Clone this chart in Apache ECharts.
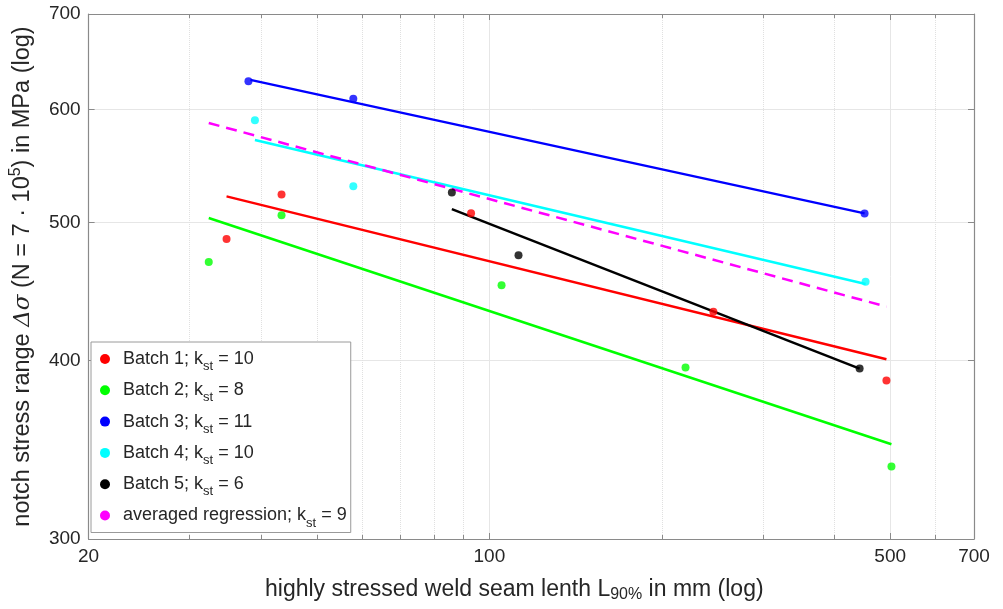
<!DOCTYPE html>
<html>
<head>
<meta charset="utf-8">
<script src="https://cdn.jsdelivr.net/npm/echarts@6/dist/echarts.min.js"></script>
<style>
html, body { margin: 0; padding: 0; background: #fff; }
#main { width: 1003px; height: 609px; }
</style>
</head>
<body>
<div id="main"></div>
<script>
// measured points: seam length L90% (mm) / notch stress range (MPa)
var batch1X = [34.8, 43.4, 92.9, 245.8, 492.5];
var batch1Y = [486.8, 523.2, 507.6, 432.9, 387.4];
var batch2X = [32.4, 43.4, 105, 219.8, 502.5];
var batch2Y = [469.2, 505.8, 451.8, 395.6, 337.2];
var batch3X = [38.0, 57.9, 451.1];
var batch3Y = [627.9, 610.4, 507.4];
var batch4X = [39.0, 57.9, 452.9];
var batch4Y = [589.7, 530.1, 454.3];
var batch5X = [86.0, 112.4, 442.2];
var batch5Y = [524.7, 474.2, 395.0];

// regression lines (end points)
var fit1X = [34.8, 492.5], fit1Y = [521.5, 401.0];
var fit2X = [32.4, 502.5], fit2Y = [503.6, 349.6];
var fit3X = [38.3, 451.1], fit3Y = [629.4, 507.4];
var fit4X = [39.0, 452.9], fit4Y = [571.2, 452.8];
var fit5X = [86.0, 442.2], fit5Y = [510.9, 395.0];
var avgX = [32.4, 492.5], avgY = [587.1, 436.5];

var names = ['Batch 1', 'Batch 2', 'Batch 3', 'Batch 4', 'Batch 5', 'averaged regression'];
var kst = [10, 8, 11, 10, 6, 9];

var xTicks = [20, 100, 500, 700];
var xMinor = [30, 40, 50, 60, 70, 80, 90, 200, 300, 400, 600];
var yTicks = [300, 400, 500, 600, 700];

var colors = ['#ff0000', '#00ff00', '#0000ff', '#00ffff', '#000000', '#ff00ff'];
var axisColor = '#8a8a8a';
var textColor = '#262626';
var font = 'Liberation Sans, Arial, Helvetica, sans-serif';

function pairs(xs, ys) {
	return xs.map(function (x, i) { return [x, ys[i]]; });
}

var pts = [pairs(batch1X, batch1Y), pairs(batch2X, batch2Y), pairs(batch3X, batch3Y),
	pairs(batch4X, batch4Y), pairs(batch5X, batch5Y)];
var fits = [pairs(fit1X, fit1Y), pairs(fit2X, fit2Y), pairs(fit3X, fit3Y),
	pairs(fit4X, fit4Y), pairs(fit5X, fit5Y), pairs(avgX, avgY)];

var series = [];
fits.forEach(function (d, i) {
	series.push({
		name: names[i],
		type: 'line',
		data: d,
		symbol: 'none',
		silent: true,
		lineStyle: { color: colors[i], width: 2.5, type: i == 5 ? [11, 7] : 'solid' },
		itemStyle: { color: colors[i] },
		z: 3
	});
});
pts.forEach(function (d, i) {
	series.push({
		name: names[i],
		type: 'scatter',
		data: d,
		symbolSize: 8,
		itemStyle: { color: colors[i] },
		z: 4
	});
});

function logAxis(pos, min, max, ticks, opts) {
	var a = {
		type: 'log', logBase: 10, min: min, max: max, position: pos,
		axisLine: { show: opts.line, lineStyle: { color: axisColor, width: 1.2 } },
		axisTick: { show: true, inside: true, length: opts.tick, customValues: ticks,
			lineStyle: { color: axisColor, width: 1 } },
		axisLabel: { show: !!opts.label },
		splitLine: { show: !!opts.split, lineStyle: opts.split || {} }
	};
	if (opts.label) {
		a.axisLabel = { show: true, customValues: ticks, fontSize: 19, color: textColor,
			fontFamily: font, margin: 8, formatter: function (v) { return Math.round(v); } };
	}
	return a;
}

var xMain = logAxis('bottom', 20, 700, xTicks, { line: true, tick: 6, label: true,
	split: { color: '#e6e6e6', width: 1 } });
xMain.name = 'highly stressed weld seam lenth L{s|90%} in mm (log)';
xMain.nameLocation = 'middle';
xMain.nameGap = 38;
xMain.nameTextStyle = { fontSize: 23, color: textColor, fontFamily: font, lineHeight: 26,
	padding: [0, 34, 0, 0],
	rich: { s: { fontSize: 16, fontFamily: font, color: textColor, verticalAlign: 'bottom',
		lineHeight: 12, padding: [12, 0, 0, 0] } } };

var yMain = logAxis('left', 300, 700, yTicks, { line: true, tick: 6, label: true,
	split: { color: '#e6e6e6', width: 1 } });
yMain.name = 'notch stress range {i|Δσ} (N = 7 · 10{p|5}) in MPa (log)';
yMain.nameLocation = 'middle';
yMain.nameGap = 34;
yMain.nameTextStyle = { fontSize: 23.5, color: textColor, fontFamily: font, lineHeight: 30,
	rich: {
		i: { fontSize: 23, fontStyle: 'italic', fontFamily: 'DejaVu Serif, serif', color: textColor },
		p: { fontSize: 16, fontFamily: font, color: textColor, verticalAlign: 'top', lineHeight: 10 }
	} };

var option = {
	backgroundColor: '#ffffff',
	animation: false,
	color: colors,
	grid: { left: 84, top: 14, width: 890, height: 525, containLabel: false },
	xAxis: [
		xMain,
		logAxis('bottom', 20, 700, xMinor, { line: false, tick: 4,
			split: { color: '#e0e0e0', width: 1, type: 'dotted' } }),
		logAxis('top', 20, 700, xTicks, { line: true, tick: 6 }),
		logAxis('top', 20, 700, xMinor, { line: false, tick: 4 })
	],
	yAxis: [
		yMain,
		logAxis('right', 300, 700, yTicks, { line: true, tick: 6 })
	],
	legend: {
		orient: 'vertical',
		left: 91,
		top: 342,
		data: names.map(function (n) { return { name: n, icon: 'circle' }; }),
		itemWidth: 26,
		itemHeight: 10,
		itemGap: 3.3,
		padding: [3, 4, 3, 9],
		backgroundColor: '#ffffff',
		borderColor: '#9a9a9a',
		borderWidth: 1,
		borderRadius: 0,
		selectedMode: false,
		itemStyle: { borderWidth: 0 },
		textStyle: {
			fontSize: 18, color: textColor, fontFamily: font, lineHeight: 28,
			rich: { s: { fontSize: 13, fontFamily: font, color: textColor, verticalAlign: 'bottom',
				lineHeight: 10, padding: [8, 0, 0, 0] } }
		},
		formatter: function (name) {
			var i = names.indexOf(name);
			return name + '; k{s|st} = ' + kst[i];
		}
	},
	series: series
};

var myChart = echarts.init(document.getElementById('main'));
myChart.setOption(option);
</script>
</body>
</html>
